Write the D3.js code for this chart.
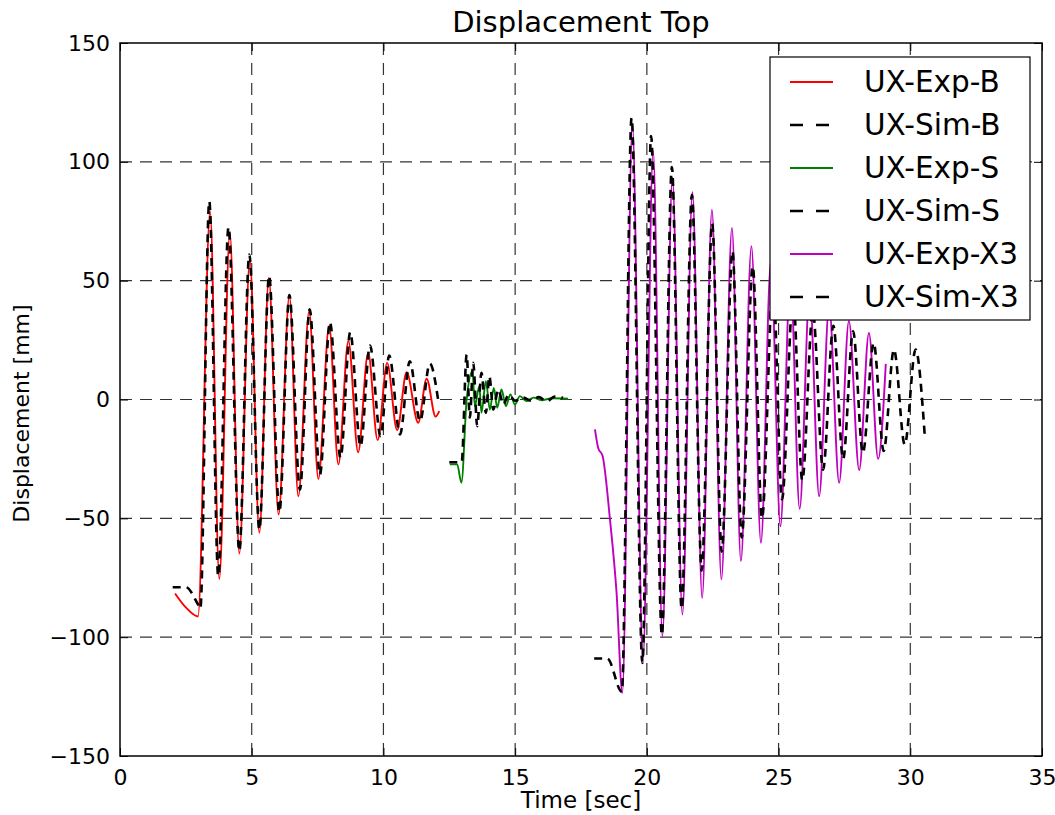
<!DOCTYPE html>
<html>
<head>
<meta charset="utf-8">
<script src="https://cdn.jsdelivr.net/npm/d3@7"></script>
<style>
  body { margin: 0; background: #fff; }
  text { font-family: "DejaVu Sans", sans-serif; fill: #000; }
</style>
</head>
<body>
<div id="chart"></div>
<script>
// data: [time (sec), displacement (mm)]
var expB = [[2.09,-81.6],[2.5,-87.5],[2.96,-91.3],[3.42,79.2],[3.77,-75.5],[4.17,70.1],[4.53,-64.8],[4.93,58.9],
  [5.29,-56.1],[5.65,51.2],[6.02,-48.4],[6.43,43.7],[6.77,-40.7],[7.18,37.2],[7.53,-33.4],[7.94,30.9],
  [8.29,-27.3],[8.67,24.6],[9.04,-22.2],[9.42,19.6],[9.78,-17.1],[10.14,15.4],[10.52,-12.9],[10.88,11.5],
  [11.32,-9.8],[11.64,8.7],[11.98,-7.2],[12.12,-4.9]];
var simB = [[2.0,-79],[2.5,-79],[2.95,-86],[3.05,-88],[3.39,83.4],[3.73,-74.3],[4.12,72.5],[4.53,-63.8],
  [4.91,61],[5.29,-54.7],[5.66,52],[6.05,-47.4],[6.43,44],[6.83,-37.9],[7.2,37.9],[7.59,-31.6],[7.97,32.5],
  [8.37,-24.5],[8.74,28.3],[9.13,-19.6],[9.49,22.7],[9.89,-15.4],[10.22,18.5],[10.63,-14.7],[11.0,16.1],
  [11.39,-9.1],[11.76,15.1],[12.1,-2]];
var expS = [[12.52,-27.3],[12.8,-27.3],[12.96,-35],[13.16,0],[13.38,12],[13.47,-2.8],[13.64,5.6],[13.72,-5.6],
  [13.89,7.7],[14.04,-4.2],[14.19,4.9],[14.32,-3.5],[14.48,4.2],[14.65,-2.8],[14.82,2.1],[14.99,-2.1],
  [15.18,1.4],[15.43,-0.7],[15.7,0.8],[16.0,-0.3],[16.4,0.5],[17.01,0.3]];
var simS = [[12.5,-26.4],[12.97,-26.4],[13.16,18.9],[13.28,-7.6],[13.41,15.4],[13.56,-11.2],[13.72,11.2],
  [13.89,-5.6],[14.02,9.8],[14.17,-4.2],[14.36,4.2],[14.55,-2.1],[14.75,2],[15.0,-0.5],[15.3,0.8],
  [15.6,-0.5],[15.9,1.0],[16.2,-0.8],[16.5,1.2],[16.82,0.7]];
var expX3 = [[18.03,-12.6],[18.15,-20.3],[18.32,-23.8],[18.6,-50.5],[18.85,-81.3],[19.07,-123.4],[19.45,115.7],
  [19.85,-110],[20.24,104.5],[20.59,-99.6],[20.97,93.3],[21.35,-90.5],[21.73,87.2],[22.1,-83.5],[22.47,79.9],
  [22.83,-75.7],[23.23,72.2],[23.57,-68],[23.97,64.5],[24.33,-60.3],[24.71,58],[25.07,-53.3],[25.45,52],
  [25.8,-46],[26.18,45],[26.54,-40.7],[26.92,39],[27.3,-35],[27.67,33],[28.06,-29.7],[28.43,28],
  [28.78,-25],[29.07,15]];
var simX3 = [[18.0,-109],[18.5,-109],[19.05,-123],[19.42,118.5],[19.83,-110.8],[20.16,110.8],[20.57,-99],
  [20.95,97.8],[21.32,-88],[21.71,86],[22.08,-72],[22.48,74],[22.84,-64],[23.25,62.4],[23.6,-58],[24.02,56],
  [24.37,-50],[24.79,49],[25.13,-42],[25.55,43],[25.9,-34],[26.3,37],[26.69,-29.5],[27.08,31],[27.45,-25],
  [27.83,28.7],[28.2,-22.4],[28.61,23.8],[28.99,-21.7],[29.38,21],[29.79,-19],[30.2,21],[30.55,-15.4]];

var xTicks = [0, 5, 10, 15, 20, 25, 30, 35];
var yTicks = [-150, -100, -50, 0, 50, 100, 150];
var seriesNames = ["UX-Exp-B", "UX-Sim-B", "UX-Exp-S", "UX-Sim-S", "UX-Exp-X3", "UX-Sim-X3"];

var series = [
  {name: seriesNames[0], data: expB, color: "#ff0000", dash: null},
  {name: seriesNames[1], data: simB, color: "#000000", dash: "8,6"},
  {name: seriesNames[2], data: expS, color: "#008000", dash: null},
  {name: seriesNames[3], data: simS, color: "#000000", dash: "8,6"},
  {name: seriesNames[4], data: expX3, color: "#bf00bf", dash: null},
  {name: seriesNames[5], data: simX3, color: "#000000", dash: "8,6"}
];

var W = 1055, H = 815;
var margin = {top: 43, right: 13, bottom: 59, left: 120};
var w = W - margin.left - margin.right;
var h = H - margin.top - margin.bottom;

var svg = d3.select("#chart").append("svg")
  .attr("width", W).attr("height", H);
var g = svg.append("g")
  .attr("transform", "translate(" + margin.left + "," + margin.top + ")");

var xScale = d3.scaleLinear().domain([0, 35]).range([0, w]);
var yScale = d3.scaleLinear().domain([-150, 150]).range([h, 0]);

// grid
g.append("g").selectAll("line").data(xTicks.slice(1, -1)).enter().append("line")
  .attr("x1", function(d) { return xScale(d); }).attr("x2", function(d) { return xScale(d); })
  .attr("y1", 0).attr("y2", h)
  .attr("stroke", "#000").attr("stroke-opacity", 0.8).attr("stroke-width", 1.2).attr("stroke-dasharray", "12,8");
g.append("g").selectAll("line").data(yTicks.slice(1, -1)).enter().append("line")
  .attr("y1", function(d) { return yScale(d); }).attr("y2", function(d) { return yScale(d); })
  .attr("x1", 0).attr("x2", w)
  .attr("stroke", "#000").attr("stroke-opacity", 0.8).attr("stroke-width", 1.2).attr("stroke-dasharray", "12,8");

// lines
var line = d3.line()
  .x(function(d) { return xScale(d[0]); })
  .y(function(d) { return yScale(d[1]); })
  .curve(d3.curveMonotoneX);

series.forEach(function(s) {
  g.append("path")
    .datum(s.data)
    .attr("fill", "none")
    .attr("stroke", s.color)
    .attr("stroke-width", s.dash ? 2.6 : 1.9)
    .attr("stroke-dasharray", s.dash)
    .attr("d", line);
});

// axes (ticks inward, on all four sides)
var xAxis = d3.axisBottom(xScale).tickValues(xTicks).tickSize(-8).tickPadding(13);
var yAxis = d3.axisLeft(yScale).tickValues(yTicks).tickSize(-8).tickPadding(10)
  .tickFormat(function(d) { return d < 0 ? "\u2212" + Math.abs(d) : d; });

var gx = g.append("g").attr("transform", "translate(0," + h + ")").call(xAxis);
var gy = g.append("g").call(yAxis);
g.append("g").call(d3.axisTop(xScale).tickValues(xTicks).tickSize(-8).tickFormat(""));
g.append("g").attr("transform", "translate(" + w + ",0)")
  .call(d3.axisRight(yScale).tickValues(yTicks).tickSize(-8).tickFormat(""));

g.selectAll(".domain").remove();
g.selectAll(".tick line").attr("stroke", "#000").attr("stroke-width", 1);
[gx, gy].forEach(function(a) {
  a.selectAll("text").style("font-family", "DejaVu Sans, sans-serif").style("font-size", "22px");
});

g.append("rect")
  .attr("width", w).attr("height", h)
  .attr("fill", "none").attr("stroke", "#000").attr("stroke-width", 1.5);

// titles
svg.append("text")
  .attr("x", margin.left + w / 2).attr("y", 32)
  .attr("text-anchor", "middle")
  .style("font-size", "29px")
  .text("Displacement Top");

svg.append("text")
  .attr("x", margin.left + w / 2).attr("y", 808)
  .attr("text-anchor", "middle")
  .style("font-size", "23px")
  .text("Time [sec]");

svg.append("text")
  .attr("transform", "translate(29," + (margin.top + h / 2 + 14) + ") rotate(-90)")
  .attr("text-anchor", "middle")
  .style("font-size", "22px")
  .text("Displacement [mm]");

// legend
var lg = svg.append("g").attr("transform", "translate(770,57)");
lg.append("rect")
  .attr("width", 260).attr("height", 263)
  .attr("fill", "#fff").attr("stroke", "#000").attr("stroke-width", 1.2);

var rows = lg.selectAll(".row").data(series).enter().append("g")
  .attr("transform", function(d, i) { return "translate(0," + (25 + i * 43) + ")"; });
rows.append("line")
  .attr("x1", 20).attr("x2", 63).attr("y1", 0).attr("y2", 0)
  .attr("stroke", function(d) { return d.color; })
  .attr("stroke-width", function(d) { return d.dash ? 2.6 : 1.9; })
  .attr("stroke-dasharray", function(d) { return d.dash ? "13,13" : null; });
rows.append("text")
  .attr("x", 94).attr("y", 10)
  .style("font-size", "29.5px")
  .text(function(d) { return d.name; });
</script>
</body>
</html>
